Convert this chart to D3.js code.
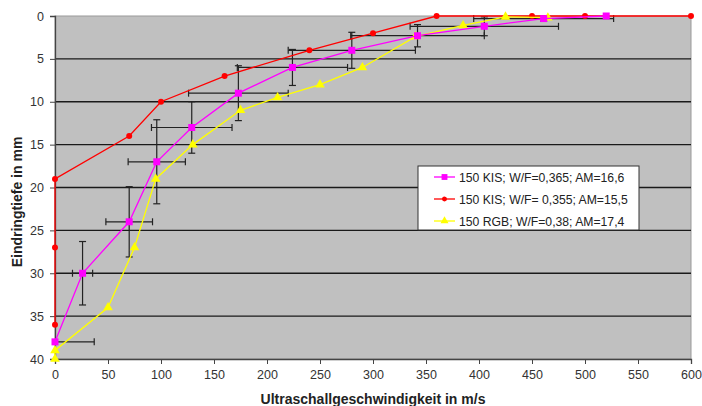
<!DOCTYPE html>
<html lang="de">
<head>
<meta charset="UTF-8">
<script src="https://cdn.jsdelivr.net/npm/d3@7"></script>
<style>
    body { margin: 0; background: #fff; }
    text { font-family: "Liberation Sans", Arial, sans-serif; }
</style>
</head>
<body>
<svg width="702" height="406"></svg>
<script>
    // Messreihen: Geschwindigkeit (m/s) und Eindringtiefe (mm)
    var kisV = [0, 26, 70, 96, 129, 173, 224, 280, 342, 405, 461, 520];
    var kisD = [38, 30, 24, 17, 13, 9, 6, 4, 2.3, 1.2, 0.3, 0];
    var kisXErr = [37, 9.5, 22, 27, 38, 47, 52, 60, 63, 70, 66, 0];
    var kisYErr = [0, 3.7, 4.1, 4.9, 3, 3.2, 2.1, 2.1, 1.3, 1.1, 0.3, 0];

    var kis2V = [0, 0, 0, 70, 100, 160, 240, 300, 360, 450, 500, 600];
    var kis2D = [36, 27, 19, 14, 10, 7, 4, 2, 0, 0, 0, 0];

    var rgbV = [0, 0, 50, 75, 95, 130, 175, 210, 250, 290, 340, 385, 425, 465];
    var rgbD = [40, 39, 34, 27, 19, 15, 11, 9.5, 8, 6, 2.4, 1.1, 0.1, 0.2];

    var xTicks = [0, 50, 100, 150, 200, 250, 300, 350, 400, 450, 500, 550, 600];
    var yTicks = [0, 5, 10, 15, 20, 25, 30, 35, 40];
    var labels = ["150 KIS; W/F=0,365; AM=16,6", "150 KIS; W/F= 0,355; AM=15,5", "150 RGB; W/F=0,38; AM=17,4"];

    var svg = d3.select("svg");
    var margin = {top: 16, right: 11, bottom: 47, left: 55};
    var w = 702 - margin.left - margin.right;
    var h = 406 - margin.top - margin.bottom;

    var x = d3.scaleLinear().domain([0, 600]).range([0, w]);
    var y = d3.scaleLinear().domain([0, 40]).range([0, h]);

    var g = svg.append("g").attr("transform", "translate(" + margin.left + "," + margin.top + ")");

    g.append("rect").attr("width", w).attr("height", h)
        .attr("fill", "#c0c0c0").attr("stroke", "#9a9a9a");

    // Gitterlinien
    g.selectAll(".grid").data(yTicks.slice(1, -1)).enter()
        .append("line")
        .attr("x1", 0).attr("x2", w)
        .attr("y1", function (d) { return y(d); })
        .attr("y2", function (d) { return y(d); })
        .attr("stroke", "#1a1a1a").attr("stroke-width", 1.4);

    // Achsen
    var yAxis = g.append("g").call(d3.axisLeft(y).tickValues(yTicks).tickSize(5).tickPadding(6));
    var xAxis = g.append("g").attr("transform", "translate(0," + h + ")")
        .call(d3.axisBottom(x).tickValues(xTicks).tickSize(5).tickPadding(6));
    [xAxis, yAxis].forEach(function (a) {
        a.select(".domain").attr("stroke", "#444").attr("stroke-width", 1.3);
        a.selectAll(".tick line").attr("stroke", "#444");
        a.selectAll("text").attr("font-size", 12.5).attr("fill", "#333")
            .attr("font-family", "'Liberation Sans', Arial, sans-serif");
    });

    // Fehlerbalken
    var cap = 3.5;
    var eb = g.append("g").attr("stroke", "#222").attr("stroke-width", 1.2);
    kisV.forEach(function (v, i) {
        var cx = x(v), cy = y(kisD[i]);
        if (kisXErr[i] > 0) {
            var x0 = x(Math.max(0, v - kisXErr[i])), x1 = x(v + kisXErr[i]);
            eb.append("line").attr("x1", x0).attr("x2", x1).attr("y1", cy).attr("y2", cy);
            if (v - kisXErr[i] > 0) eb.append("line").attr("x1", x0).attr("x2", x0).attr("y1", cy - cap).attr("y2", cy + cap);
            eb.append("line").attr("x1", x1).attr("x2", x1).attr("y1", cy - cap).attr("y2", cy + cap);
        }
        if (kisYErr[i] > 0) {
            var y0 = y(kisD[i] - kisYErr[i]), y1 = y(kisD[i] + kisYErr[i]);
            eb.append("line").attr("x1", cx).attr("x2", cx).attr("y1", y0).attr("y2", y1);
            eb.append("line").attr("x1", cx - cap).attr("x2", cx + cap).attr("y1", y0).attr("y2", y0);
            eb.append("line").attr("x1", cx - cap).attr("x2", cx + cap).attr("y1", y1).attr("y2", y1);
        }
    });

    var series = [
        {v: kisV, d: kisD, color: "#ff00ff", shape: d3.symbolSquare, size: 49},
        {v: kis2V, d: kis2D, color: "#ff0000", shape: d3.symbolCircle, size: 28},
        {v: rgbV, d: rgbD, color: "#ffff00", shape: d3.symbolTriangle, size: 40}
    ];

    var line = d3.line()
        .x(function (p) { return x(p[0]); })
        .y(function (p) { return y(p[1]); });

    // erst rot, dann gelb, dann magenta obenauf
    [1, 2, 0].forEach(function (k) {
        var s = series[k];
        var pts = d3.zip(s.v, s.d);
        g.append("path").datum(pts)
            .attr("d", line)
            .attr("fill", "none")
            .attr("stroke", s.color)
            .attr("stroke-width", 1.3);
        g.selectAll(".m" + k).data(pts).enter()
            .append("path")
            .attr("transform", function (p) { return "translate(" + x(p[0]) + "," + y(p[1]) + ")"; })
            .attr("d", d3.symbol().type(s.shape).size(s.size))
            .attr("fill", s.color);
    });

    // Legende
    var lg = svg.append("g").attr("transform", "translate(418,166)");
    lg.append("rect").attr("width", 221).attr("height", 64)
        .attr("fill", "#fff").attr("stroke", "#333").attr("stroke-width", 1);
    series.forEach(function (s, i) {
        var ly = 11 + i * 22;
        lg.append("line").attr("x1", 16).attr("x2", 37).attr("y1", ly).attr("y2", ly)
            .attr("stroke", s.color).attr("stroke-width", 1.3);
        lg.append("path").attr("transform", "translate(26.5," + ly + ")")
            .attr("d", d3.symbol().type(s.shape).size(s.size * 0.7)).attr("fill", s.color);
        lg.append("text").attr("x", 41).attr("y", ly + 4.5)
            .attr("font-size", 12.2).attr("fill", "#222").text(labels[i]);
    });

    // Achsentitel
    svg.append("text")
        .attr("x", margin.left + w / 2).attr("y", 404)
        .attr("text-anchor", "middle")
        .attr("font-size", 14).attr("font-weight", "bold").attr("fill", "#222")
        .text("Ultraschallgeschwindigkeit in m/s");
    svg.append("text")
        .attr("transform", "translate(22,202) rotate(-90)")
        .attr("text-anchor", "middle")
        .attr("font-size", 14).attr("font-weight", "bold").attr("fill", "#222")
        .text("Eindringtiefe in mm");
</script>
</body>
</html>
